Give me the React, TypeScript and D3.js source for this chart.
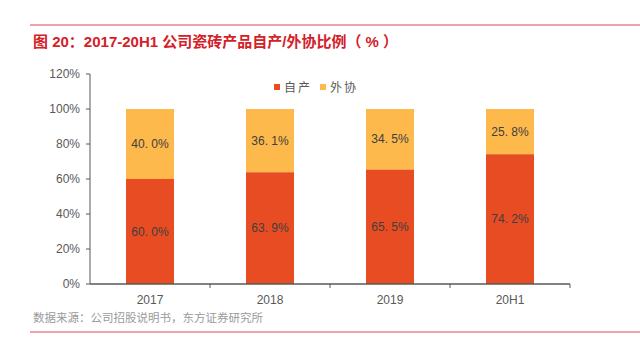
import React from "react";
import * as d3 from "d3";

const categories = ["2017", "2018", "2019", "20H1"];
const selfMade = [60.0, 63.9, 65.5, 74.2];
const outsourced = [40.0, 36.1, 34.5, 25.8];
const yTicks = [0, 20, 40, 60, 80, 100, 120];
const seriesNames = ["自产", "外协"];
const colors = ["#E84C22", "#FDB94B"];

export default function App() {
  const W = 640, H = 342;
  const left = 90, right = 570, top = 74, bottom = 284;
  const xb = d3.scaleBand<string>().domain(categories).range([left, right]);
  const y = d3.scaleLinear().domain([0, 120]).range([bottom, top]);
  const font = "'Liberation Sans', 'Noto Sans CJK SC', sans-serif";
  const bw = 48;
  return (
    <svg width={W} height={H} style={{ position: "absolute", left: 0, top: 0, background: "#fff" }} fontFamily={font}>
      <line x1={30} x2={640} y1={25} y2={25} stroke="#E0474C" strokeWidth={1} />
      <text x={33} y={47} fill="#D42027" fontSize={15} fontWeight="bold">图 20：2017-20H1 公司瓷砖产品自产/外协比例（ % ）</text>
      {categories.map((c, i) => {
        const cx = xb(c)! + xb.bandwidth() / 2;
        const s = selfMade[i], o = outsourced[i];
        return (
          <g key={c}>
            <rect x={cx - bw / 2} y={y(s)} width={bw} height={y(0) - y(s)} fill={colors[0]} />
            <rect x={cx - bw / 2} y={y(s + o)} width={bw} height={y(s) - y(s + o)} fill={colors[1]} />
            <text x={cx} y={(y(0) + y(s)) / 2 + 4} textAnchor="middle" fontSize={12} fill="#404040">{s.toFixed(1).replace(".", ". ")}%</text>
            <text x={cx} y={(y(s) + y(s + o)) / 2 + 4} textAnchor="middle" fontSize={12} fill="#404040">{o.toFixed(1).replace(".", ". ")}%</text>
            <text x={cx} y={304} textAnchor="middle" fontSize={12} fill="#595959">{c}</text>
          </g>
        );
      })}
      <line x1={left} x2={left} y1={top} y2={bottom} stroke="#595959" />
      <line x1={left} x2={right} y1={bottom} y2={bottom} stroke="#595959" strokeWidth={1.5} />
      {yTicks.map(t => (
        <g key={t}>
          <line x1={left - 4} x2={left} y1={y(t)} y2={y(t)} stroke="#595959" />
          <text x={left - 10} y={y(t) + 4} textAnchor="end" fontSize={12} fill="#595959">{t}%</text>
        </g>
      ))}
      {categories.map(c => (
        <line key={c} x1={xb(c)! + xb.bandwidth()} x2={xb(c)! + xb.bandwidth()} y1={bottom} y2={bottom + 4} stroke="#595959" />
      ))}
      {seriesNames.map((n, i) => (
        <g key={n} transform={`translate(${274 + i * 46},88)`}>
          <rect x={0} y={-4} width={6} height={6} fill={colors[i]} />
          <text x={10} y={4} fontSize={12} fill="#595959" letterSpacing={2}>{n}</text>
        </g>
      ))}
      <text x={33} y={322} fontSize={11.5} fill="#9a9a9a">数据来源：公司招股说明书，东方证券研究所</text>
      <line x1={30} x2={640} y1={332} y2={332} stroke="#E0474C" strokeWidth={1} />
    </svg>
  );
}
